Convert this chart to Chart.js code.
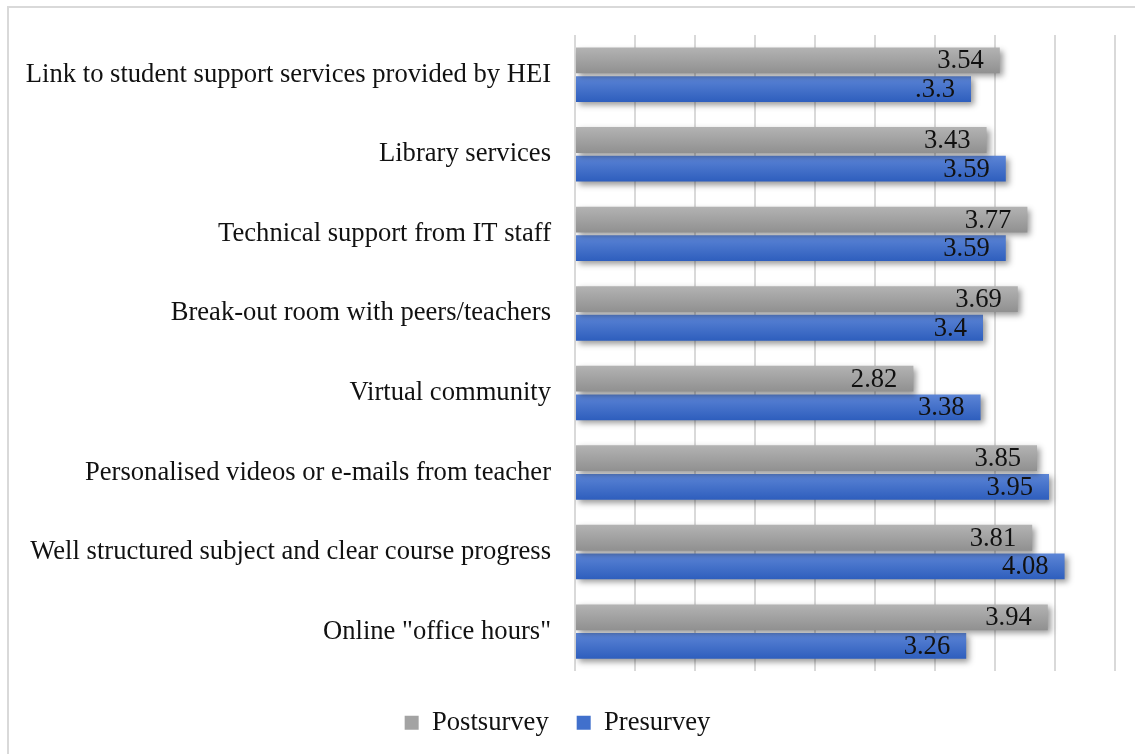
<!DOCTYPE html>
<html>
<head>
<meta charset="utf-8">
<script src="https://cdn.jsdelivr.net/npm/chart.js@4"></script>
<style>
  html, body { margin: 0; padding: 0; background: #fff; }
  #wrap { position: absolute; left: 0; top: 0; width: 1135px; height: 754px; }
  #frame { position: absolute; left: 7px; top: 6px; right: -10px; bottom: -10px; border-left: 2px solid #d9d9d9; border-top: 2px solid #d9d9d9; }
</style>
</head>
<body>
<div id="wrap">
  <div id="frame"></div>
  <canvas id="chart" width="1135" height="754"></canvas>
</div>
<script>
const categories = [
  'Link to student support services provided by HEI',
  'Library services',
  'Technical support from IT staff',
  'Break-out room with peers/teachers',
  'Virtual community',
  'Personalised videos or e-mails from teacher',
  'Well structured subject and clear course progress',
  'Online "office hours"',
]
const postsurvey = [3.54, 3.43, 3.77, 3.69, 2.82, 3.85, 3.81, 3.94]
const presurvey = [3.3, 3.59, 3.59, 3.4, 3.38, 3.95, 4.08, 3.26]
const postLabels = ['3.54', '3.43', '3.77', '3.69', '2.82', '3.85', '3.81', '3.94']
const preLabels = ['.3.3', '3.59', '3.59', '3.4', '3.38', '3.95', '4.08', '3.26']
const xTicks = [0, 0.5, 1, 1.5, 2, 2.5, 3, 3.5, 4, 4.5]

const FONT = '"Liberation Serif", "Times New Roman", serif'
const SIZE = 26.6
const gradStops = [
  ['#b3b3b3', '#909090'],
  ['#5c85d6', '#2e5ebd'],
]

// bars: vertical gradient + soft drop shadow
const barStyle = {
  id: 'barStyle',
  beforeDatasetDraw(chart, args) {
    const ctx = chart.ctx
    const stops = gradStops[args.index]
    args.meta.data.forEach((bar) => {
      const top = bar.y - bar.height / 2
      const g = ctx.createLinearGradient(0, top, 0, top + bar.height)
      g.addColorStop(0, stops[0])
      g.addColorStop(1, stops[1])
      bar.options = Object.assign({}, bar.options, { backgroundColor: g })
    })
    ctx.save()
    ctx.shadowColor = 'rgba(0,0,0,0.4)'
    ctx.shadowBlur = 6
    ctx.shadowOffsetX = 3
    ctx.shadowOffsetY = 3
  },
  afterDatasetDraw(chart) {
    chart.ctx.restore()
  },
}

// value labels inside the end of each bar
const valueLabels = {
  id: 'valueLabels',
  afterDatasetsDraw(chart) {
    const ctx = chart.ctx
    const sets = [postLabels, preLabels]
    ctx.save()
    ctx.font = SIZE + 'px ' + FONT
    ctx.fillStyle = '#111'
    ctx.textAlign = 'right'
    ctx.textBaseline = 'middle'
    chart.data.datasets.forEach((ds, di) => {
      chart.getDatasetMeta(di).data.forEach((bar, i) => {
        ctx.fillText(sets[di][i], bar.x - 16, bar.y + 1)
      })
    })
    ctx.restore()
  },
}

new Chart(document.getElementById('chart'), {
  type: 'bar',
  data: {
    labels: categories,
    datasets: [
      {
        label: 'Postsurvey',
        data: postsurvey,
        backgroundColor: '#a3a3a3',
        categoryPercentage: 0.72,
        barPercentage: 0.9,
      },
      {
        label: 'Presurvey',
        data: presurvey,
        backgroundColor: '#4170cc',
        categoryPercentage: 0.72,
        barPercentage: 0.9,
      },
    ],
  },
  options: {
    indexAxis: 'y',
    responsive: false,
    animation: false,
    layout: { padding: { top: 0, right: 20, bottom: 8, left: 0 } },
    scales: {
      x: {
        min: xTicks[0],
        max: xTicks[xTicks.length - 1],
        afterBuildTicks(scale) {
          scale.ticks = xTicks.map((v) => ({ value: v }))
        },
        afterFit(scale) {
          scale.height += 10
        },
        ticks: { display: false },
        grid: { color: '#d9d9d9', lineWidth: 2, drawTicks: false },
        border: { display: false },
      },
      y: {
        afterFit(scale) {
          scale.width = 575
          scale.paddingTop = 35
        },
        ticks: {
          color: '#111',
          font: { family: FONT, size: SIZE },
          padding: 24,
        },
        grid: { display: false, drawTicks: false },
        border: { display: false },
      },
    },
    plugins: {
      legend: {
        position: 'bottom',
        labels: {
          color: '#111',
          font: { family: FONT, size: SIZE },
          boxWidth: 14,
          boxHeight: 14,
          padding: 28,
        },
      },
      tooltip: { enabled: false },
    },
  },
  plugins: [barStyle, valueLabels],
})
</script>
</body>
</html>
